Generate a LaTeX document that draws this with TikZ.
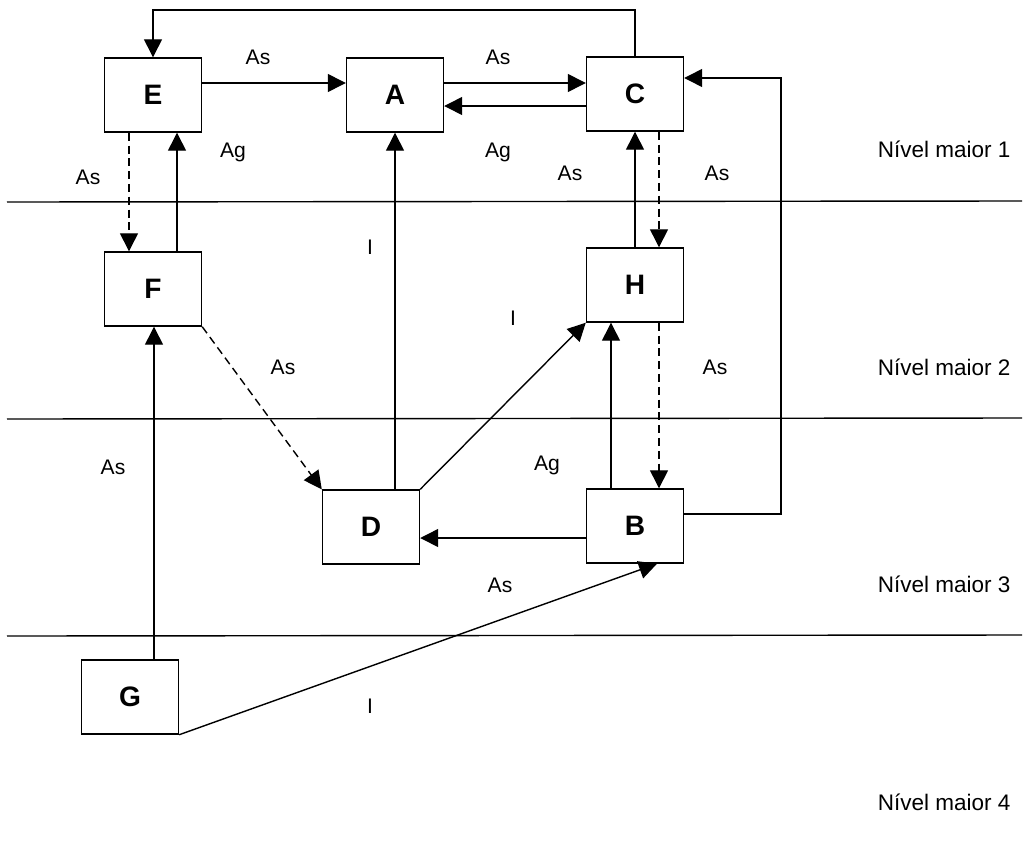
\documentclass[tikz,border=0pt]{standalone}
\usepackage{fontspec}
\setmainfont{Liberation Sans}
\usetikzlibrary{arrows.meta}

\begin{document}
\begin{tikzpicture}[
  x=0.025cm, y=-0.025cm,
  box/.style={rectangle, draw, line width=1pt, minimum width=2.425cm,
              minimum height=1.85cm, inner sep=0pt,
              font=\fontsize{20}{20}\selectfont\bfseries},
  arr/.style={-{Triangle[length=0.45cm, width=0.45cm]}, line width=1pt},
  darr/.style={arr, dash pattern=on 0.2cm off 0.12cm},
  lbl/.style={font=\fontsize{15}{15}\selectfont},
  lvl/.style={font=\fontsize{16}{16}\selectfont, anchor=west},
  sep/.style={line width=1pt},
]
\useasboundingbox (0,0) rectangle (1024,849);

%% ---- level separators ----
\coordinate (s1w) at (7,202);   \coordinate (s1e) at (1022,201);
\coordinate (s2w) at (7,419);   \coordinate (s2e) at (1022,418);
\coordinate (s3w) at (7,636);   \coordinate (s3e) at (1022,635);
\draw[sep] (s1w) -- (s1e);
\draw[sep] (s2w) -- (s2e);
\draw[sep] (s3w) -- (s3e);

\node[lvl] (n1) at (873,149) {Nível maior 1};
\node[lvl] (n2) at (873,367) {Nível maior 2};
\node[lvl] (n3) at (873,584) {Nível maior 3};
\node[lvl] (n4) at (873,802) {Nível maior 4};

%% ---- boxes ----
\node[box] (E) at (153,95)  {E};
\node[box] (A) at (395,95)  {A};
\node[box] (C) at (635,94)  {C};
\node[box] (F) at (153,289) {F};
\node[box] (H) at (635,285) {H};
\node[box] (D) at (371,527) {D};
\node[box] (B) at (635,526) {B};
\node[box] (G) at (130,697) {G};

\coordinate (topline) at (0,10);
\coordinate (rightline) at (781,0);

%% ---- top row ----
\draw[arr] (C.north) -- (C.north |- topline) -| (E.north);
\draw[arr] ([yshift=0.3cm]E.east) -- ([yshift=0.3cm]E.east -| A.west);
\draw[arr] ([yshift=0.3cm]A.east) -- ([yshift=0.3cm]A.east -| C.west);
\draw[arr] ([yshift=-0.3cm]C.west) -- ([yshift=-0.3cm]C.west -| A.east);

%% ---- left column ----
\draw[darr] ([xshift=-0.6cm]E.south) -- ([xshift=-0.6cm]E.south |- F.north);
\draw[arr]  ([xshift=0.6cm]F.north) -- ([xshift=0.6cm]F.north |- E.south);
\draw[arr]  ([xshift=0.6cm]G.north) -- ([xshift=0.6cm]G.north |- F.south);
\draw[darr] (F.south east) -- (D.north west);

%% ---- middle ----
\draw[arr] ([xshift=0.6cm]D.north) -- ([xshift=0.6cm]D.north |- A.south);
\draw[arr] (D.north east) -- (H.south west);
\draw[arr] ([yshift=-0.3cm]B.west) -- ([yshift=-0.3cm]B.west -| D.east);
\draw[arr] (G.south east) -- ([xshift=0.55cm]B.south);

%% ---- right column ----
\draw[arr]  (H.north) -- (C.south);
\draw[darr] ([xshift=0.6cm]C.south) -- ([xshift=0.6cm]C.south |- H.north);
\draw[darr] ([xshift=0.6cm]H.south) -- ([xshift=0.6cm]H.south |- B.north);
\draw[arr]  ([xshift=-0.6cm]B.north) -- ([xshift=-0.6cm]B.north |- H.south);
\coordinate (bout) at ([yshift=0.3cm]B.east);
\coordinate (cin)  at ([yshift=0.4cm]C.east);
\draw[arr] (bout) -- (bout -| rightline) |- (cin);

%% ---- edge labels ----
\node[lbl] (tEA) at (258,57)  {As};
\node[lbl] (tAC) at (498,57)  {As};
\node[lbl] (tCA) at (498,152) {Ag};
\node[lbl] (tEF) at (88,177)  {As};
\node[lbl] (tFE) at (233,152) {Ag};
\node[lbl] (tDA) at (370,247) {I};
\node[lbl] (tHC) at (570,173) {As};
\node[lbl] (tCH) at (717,173) {As};
\node[lbl] (tDH) at (513,318) {I};
\node[lbl] (tFD) at (283,367) {As};
\node[lbl] (tHB) at (715,367) {As};
\node[lbl] (tBH) at (547,465) {Ag};
\node[lbl] (tBD) at (500,585) {As};
\node[lbl] (tGF) at (113,467) {As};
\node[lbl] (tGB) at (370,706) {I};

\end{tikzpicture}
\end{document}
